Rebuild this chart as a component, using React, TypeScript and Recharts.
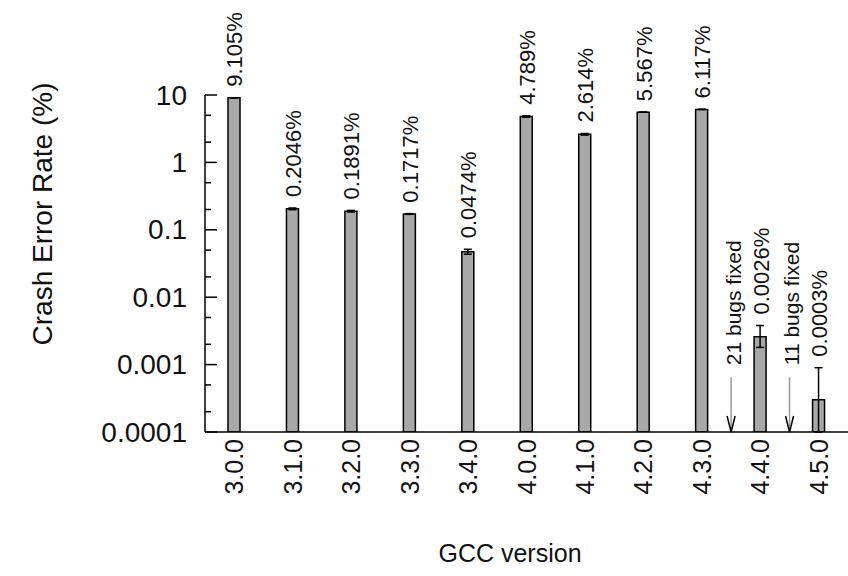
import React from 'react';
import { BarChart, Bar, XAxis, YAxis, ErrorBar, LabelList, ReferenceLine } from 'recharts';

const versions = ['3.0.0', '3.1.0', '3.2.0', '3.3.0', '3.4.0', '4.0.0', '4.1.0', '4.2.0', '4.3.0', '4.4.0', '4.5.0'];
const crashRates = [9.105, 0.2046, 0.1891, 0.1717, 0.0474, 4.789, 2.614, 5.567, 6.117, 0.0026, 0.0003];
const rateLabels = ['9.105%', '0.2046%', '0.1891%', '0.1717%', '0.0474%', '4.789%', '2.614%', '5.567%', '6.117%', '0.0026%', '0.0003%'];
const errLow = [0, 0.006, 0.005, 0.002, 0.004, 0.12, 0.07, 0, 0, 0.0008, 0.0002];
const errHigh = [0, 0.006, 0.005, 0.002, 0.004, 0.12, 0.07, 0, 0, 0.0012, 0.0006];

const bugFixAt = [8.5, 9.5];
const bugFixLabels = ['21 bugs fixed', '11 bugs fixed'];
const arrowTop = 0.00065;

const majorTicks = [0.0001, 0.001, 0.01, 0.1, 1, 10];
const yTicks = [0.0001, 0.0002, 0.0005, 0.001, 0.002, 0.005, 0.01, 0.02, 0.05, 0.1, 0.2, 0.5, 1, 2, 5, 10];
const yTickLabels = ['0.0001', '0.001', '0.01', '0.1', '1', '10'];

const data = versions.map((v, i) => ({
  idx: i,
  version: v,
  rate: crashRates[i],
  err: [errLow[i], errHigh[i]],
}));

const FONT = '"Liberation Sans", Arial, Helvetica, sans-serif';
const TEXT = '#111';

const YTick = (props: any) => {
  const { x, y, payload } = props;
  const k = majorTicks.indexOf(payload.value);
  const major = k >= 0;
  return (
    <g>
      <line x1={x} y1={y} x2={x + (major ? 12 : 6)} y2={y} stroke="#000" strokeWidth={1.5} />
      {major && (
        <text x={x - 18} y={y} textAnchor="end" dominantBaseline="central" fontSize={28} fontFamily={FONT} fill={TEXT}>
          {yTickLabels[k]}
        </text>
      )}
    </g>
  );
};

const XTick = (props: any) => {
  const { x, y, payload } = props;
  const ty = y + 7;
  return (
    <text x={x} y={ty} transform={`rotate(-90, ${x}, ${ty})`} textAnchor="end" dominantBaseline="central" fontSize={25} fontFamily={FONT} fill={TEXT}>
      {versions[payload.value]}
    </text>
  );
};

const ValueLabel = (props: any) => {
  const { x, y, width, height, index } = props;
  const v = crashRates[index];
  const perDecade = height / (Math.log10(v) - Math.log10(0.0001));
  const top = y - perDecade * (Math.log10(v + errHigh[index]) - Math.log10(v));
  const cx = x + width / 2 + 1;
  const ty = top - 11;
  return (
    <text x={cx} y={ty} transform={`rotate(-90, ${cx}, ${ty})`} textAnchor="start" dominantBaseline="central" fontSize={22} fontFamily={FONT} fill={TEXT}>
      {rateLabels[index]}
    </text>
  );
};

const BugArrow = (label: string) => (props: any) => {
  const { x1, y1, y2 } = props;
  const top = Math.min(y1, y2);
  const bottom = Math.max(y1, y2);
  const tx = x1 + 2;
  const ty = top - 12;
  return (
    <g>
      <line x1={x1} y1={top} x2={x1} y2={bottom - 2} stroke="#999" strokeWidth={1.5} />
      <path d={`M ${x1 - 4} ${bottom - 16} L ${x1} ${bottom} L ${x1 + 4} ${bottom - 16}`} fill="none" stroke="#000" strokeWidth={1.5} />
      <text x={tx} y={ty} transform={`rotate(-90, ${tx}, ${ty})`} textAnchor="start" dominantBaseline="central" fontSize={21} fontFamily={FONT} fill={TEXT}>
        {label}
      </text>
    </g>
  );
};

const YTitle = (props: any) => {
  const { viewBox } = props;
  const cx = viewBox.x + 37;
  const cy = 214;
  return (
    <text x={cx} y={cy} transform={`rotate(-90, ${cx}, ${cy})`} textAnchor="middle" dominantBaseline="central" fontSize={28} fontFamily={FONT} fill={TEXT}>
      Crash Error Rate (%)
    </text>
  );
};

const XTitle = () => {
  return (
    <text x={510} y={553} textAnchor="middle" dominantBaseline="central" fontSize={25} fontFamily={FONT} fill={TEXT}>
      GCC version
    </text>
  );
};

export default function App() {
  return (
    <div style={{ position: 'absolute', left: 0, top: 0, background: '#fff' }}>
      <BarChart width={848} height={576} data={data} margin={{ top: 95, right: 0, bottom: 0, left: 5 }}>
        <XAxis
          dataKey="idx"
          type="number"
          domain={[-0.5, 10.5]}
          ticks={[0, 1, 2, 3, 4, 5, 6, 7, 8, 9, 10]}
          interval={0}
          allowDataOverflow
          height={144}
          tickLine={false}
          tickSize={0}
          tickMargin={0}
          axisLine={{ stroke: '#000', strokeWidth: 1.5 }}
          tick={<XTick />}
          label={<XTitle />}
        />
        <YAxis
          scale="log"
          type="number"
          domain={[0.0001, 10]}
          ticks={yTicks}
          interval={0}
          allowDataOverflow
          width={200}
          tickLine={false}
          tickSize={0}
          tickMargin={0}
          axisLine={{ stroke: '#000', strokeWidth: 1.5 }}
          tick={<YTick />}
          label={<YTitle />}
        />
        <Bar dataKey="rate" barSize={12} fill="#a8a8a8" stroke="#000" strokeWidth={1.5} isAnimationActive={false}>
          <ErrorBar dataKey="err" width={4} stroke="#000" strokeWidth={1.5} direction="y" />
          <LabelList dataKey="rate" content={<ValueLabel />} />
        </Bar>
        {bugFixAt.map((pos, i) => (
          <ReferenceLine
            key={pos}
            segment={[{ x: pos, y: 0.0001 }, { x: pos, y: arrowTop }]}
            ifOverflow="visible"
            shape={BugArrow(bugFixLabels[i])}
          />
        ))}
      </BarChart>
    </div>
  );
}
